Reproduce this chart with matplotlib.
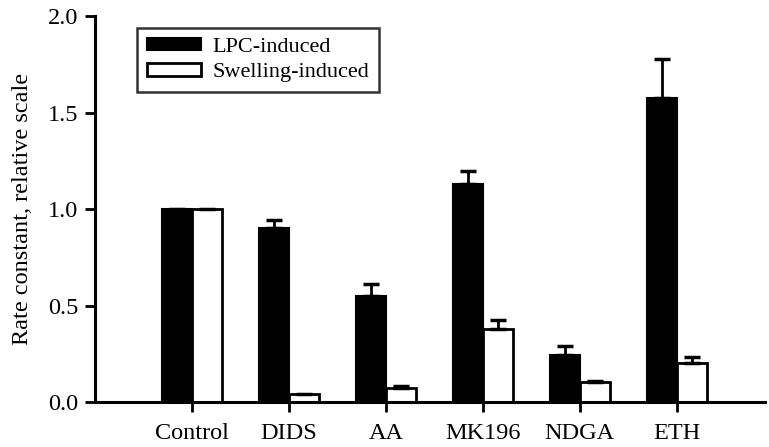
import numpy as np
import matplotlib
matplotlib.use('Agg')
import matplotlib.pyplot as plt

# Values (nan = no visible error bar)
categories = ['Control', 'DIDS', 'AA', 'MK196', 'NDGA', 'ETH']
lpc = [1.00, 0.90, 0.55, 1.13, 0.245, 1.575]
lpc_err = [np.nan, 0.045, 0.06, 0.07, 0.045, 0.205]
swell = [1.00, 0.04, 0.07, 0.38, 0.105, 0.20]
swell_err = [np.nan, np.nan, 0.015, 0.045, 0.005, 0.035]

plt.rcParams['font.family'] = ['Liberation Serif', 'DejaVu Serif']

fig = plt.figure(figsize=(7.69, 4.47), dpi=100)
ax = fig.add_axes([0.1235, 0.1007, 0.871, 0.863])

x = np.arange(1, len(categories) + 1)
w = 0.31
ekw = dict(ecolor='black', elinewidth=2, capsize=6, capthick=2.5)
ax.bar(x - w / 2, lpc, w, color='black', edgecolor='black', linewidth=1.5,
       yerr=[np.zeros(len(lpc)), lpc_err], error_kw=ekw,
       label='LPC-induced', zorder=2)
ax.bar(x + w / 2, swell, w, color='white', edgecolor='black', linewidth=2,
       yerr=[np.zeros(len(swell)), swell_err], error_kw=ekw,
       label='Swelling-induced', zorder=2)

ax.set_xlim(0, 6.907)
ax.set_ylim(0, 2.0)
ax.set_yticks([0.0, 0.5, 1.0, 1.5, 2.0])
ax.set_yticklabels(['0.0', '0.5', '1.0', '1.5', '2.0'])
ax.set_xticks(x)
ax.set_xticklabels(categories)
ax.tick_params(axis='both', direction='out', length=7, width=2, labelsize=17.5, pad=5)
ax.tick_params(axis='x', pad=8)
ax.set_ylabel('Rate constant, relative scale', fontsize=17.5, labelpad=11)

for s in ['top', 'right']:
    ax.spines[s].set_visible(False)
for s in ['left', 'bottom']:
    ax.spines[s].set_linewidth(2.2)

leg = ax.legend(loc='upper left', bbox_to_anchor=(0.063, 0.97), fontsize=16,
                frameon=True, fancybox=False, edgecolor='black',
                handlelength=2.4, handleheight=0.5, handletextpad=0.55,
                borderpad=0.45, labelspacing=0.28, borderaxespad=0)
leg.get_frame().set_linewidth(1.8)

fig.savefig('out.png', dpi=100)
